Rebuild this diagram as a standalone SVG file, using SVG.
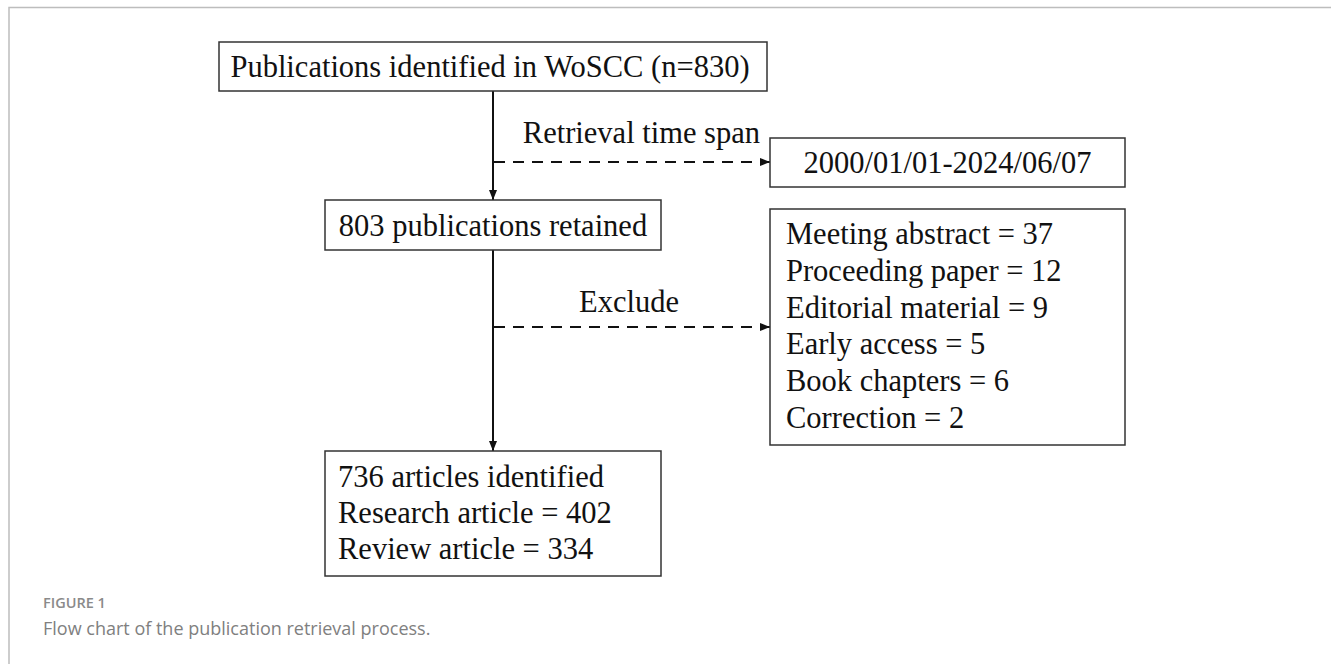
<svg xmlns="http://www.w3.org/2000/svg" width="1331" height="664" viewBox="0 0 1331 664">
<defs>
<style>
.box{fill:#ffffff;stroke:#333333;stroke-width:1.5}
.t{font-family:"Liberation Serif","Times New Roman",serif;font-size:30.5px;fill:#111111}
.solid{stroke:#111111;stroke-width:2;fill:none}
.dash{stroke:#111111;stroke-width:2;fill:none;stroke-dasharray:11 8}
.cap1{font-family:"Open Sans","Noto Sans",sans-serif;font-size:14.5px;font-weight:600;fill:#8a8a8a}
.cap2{font-family:"Open Sans","Noto Sans",sans-serif;font-size:18px;fill:#808080}
</style>
<marker id="ah" viewBox="0 0 10 10" refX="10" refY="5" markerWidth="10" markerHeight="10" markerUnits="userSpaceOnUse" orient="auto">
<path d="M0,1 L10,5 L0,9 Z" fill="#111111"/>
</marker>
</defs>
<rect x="0" y="0" width="1331" height="664" fill="#ffffff"/>
<path d="M9,664 L9,7.5 L1331,7.5" fill="none" stroke="#bdbdbd" stroke-width="1.5"/>
<g id="connectors">
<line class="solid" x1="493" y1="91" x2="493" y2="200" marker-end="url(#ah)"/>
<line class="solid" x1="493" y1="250" x2="493" y2="451" marker-end="url(#ah)"/>
<line class="dash" x1="494" y1="162" x2="770" y2="162" marker-end="url(#ah)"/>
<line class="dash" x1="494" y1="327" x2="770" y2="327" marker-end="url(#ah)"/>
<text class="t" x="760" y="143" text-anchor="end">Retrieval time span</text>
<text class="t" x="629" y="312" text-anchor="middle">Exclude</text>
</g>
<g id="n1">
<rect class="box" x="219" y="42" width="548" height="49"/>
<text class="t" x="490" y="77" text-anchor="middle">Publications identified in WoSCC (n=830)</text>
</g>
<g id="n2">
<rect class="box" x="770" y="138" width="355" height="49"/>
<text class="t" x="947.5" y="173" text-anchor="middle">2000/01/01-2024/06/07</text>
</g>
<g id="n3">
<rect class="box" x="325" y="200" width="336" height="50"/>
<text class="t" x="493" y="236" text-anchor="middle">803 publications retained</text>
</g>
<g id="n4">
<rect class="box" x="770" y="209" width="355" height="236"/>
<text class="t" x="786" y="244">Meeting abstract = 37</text>
<text class="t" x="786" y="281">Proceeding paper = 12</text>
<text class="t" x="786" y="318">Editorial material = 9</text>
<text class="t" x="786" y="354">Early access = 5</text>
<text class="t" x="786" y="391">Book chapters = 6</text>
<text class="t" x="786" y="428">Correction = 2</text>
</g>
<g id="n5">
<rect class="box" x="325" y="451" width="336" height="125"/>
<text class="t" x="338" y="487">736 articles identified</text>
<text class="t" x="338" y="523">Research article = 402</text>
<text class="t" x="338" y="559">Review article = 334</text>
</g>
<g id="caption">
<text class="cap1" x="43" y="608">FIGURE 1</text>
<text class="cap2" x="43" y="635">Flow chart of the publication retrieval process.</text>
</g>
</svg>
